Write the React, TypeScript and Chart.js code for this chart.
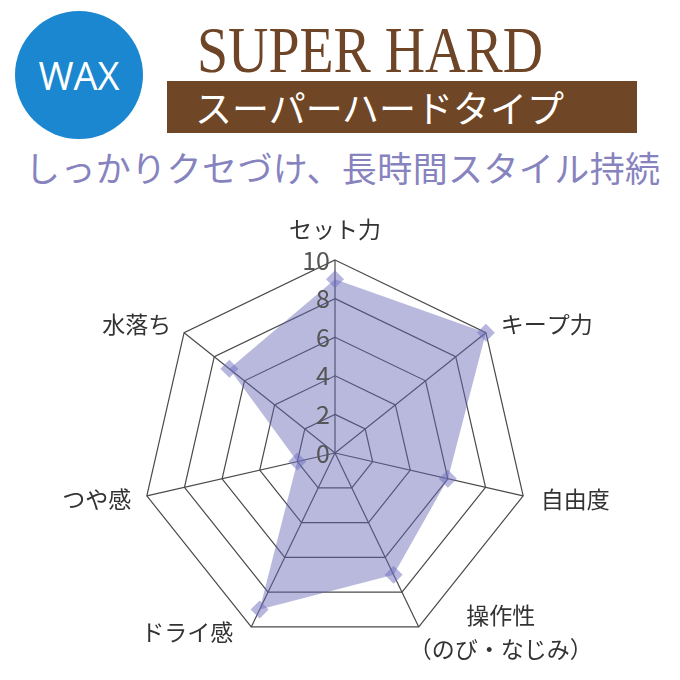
import { useEffect, useRef } from "react";
import { Chart, registerables } from "chart.js";

Chart.register(...registerables);

const axisLabels: (string | string[])[] = [
  "セット力",
  "キープ力",
  "自由度",
  ["操作性", "（のび・なじみ）"],
  "ドライ感",
  "つや感",
  "水落ち",
];
const scores = [9, 10, 6, 7, 9, 2, 7];
const tickValues = [0, 2, 4, 6, 8, 10];

const JP = '"Noto Sans CJK JP", "Noto Sans", sans-serif';

// draws tick numbers left of the axis and the axis names
const textPlugin = {
  id: "radarText",
  afterDraw(chart: any) {
    const scale = chart.scales.r;
    const ctx = chart.ctx as CanvasRenderingContext2D;
    ctx.save();

    ctx.font = `25px ${JP}`;
    ctx.fillStyle = "#555";
    ctx.textAlign = "right";
    ctx.textBaseline = "middle";
    tickValues.forEach((v) => {
      const d = scale.getDistanceFromCenterForValue(v);
      ctx.fillText(String(v), scale.xCenter - 5, scale.yCenter - d);
    });

    ctx.font = `23px ${JP}`;
    ctx.fillStyle = "#333";
    ctx.textAlign = "center";
    const lh = 34;
    axisLabels.forEach((label, i) => {
      const lines = Array.isArray(label) ? label : [label];
      const p = scale.getPointPosition(i, scale.drawingArea + 14);
      const dx = p.x - scale.xCenter;
      const dy = p.y - scale.yCenter;
      const maxW = Math.max(...lines.map((l) => ctx.measureText(l).width));
      let cx = p.x;
      let cy = p.y;
      if (Math.abs(dx) < 2) {
        cx = p.x;
      } else if (dx > 0) {
        cx = p.x + maxW / 2 + 4;
      } else {
        cx = p.x - maxW / 2 - 2;
      }
      if (dy < -scale.drawingArea * 0.9) {
        cy = p.y - 17;
      } else if (dy > scale.drawingArea * 0.8) {
        cy = p.y - 7;
        cx += dx > 0 ? -20 : -10;
      }
      lines.forEach((l, k) => {
        ctx.fillText(l, cx, cy - ((lines.length - 1) * lh) / 2 + k * lh);
      });
    });
    ctx.restore();
  },
};

function Radar() {
  const canvasRef = useRef<HTMLCanvasElement | null>(null);

  useEffect(() => {
    if (!canvasRef.current) return;
    const chart = new Chart(canvasRef.current, {
      type: "radar",
      data: {
        labels: axisLabels,
        datasets: [
          {
            data: scores,
            fill: true,
            backgroundColor: "rgba(100,100,180,0.45)",
            borderColor: "rgba(0,0,0,0)",
            borderWidth: 0,
            pointStyle: "rectRot",
            pointRadius: 9,
            pointBackgroundColor: "rgba(110,110,190,0.5)",
            pointBorderWidth: 0,
          },
        ],
      },
      options: {
        animation: false,
        responsive: true,
        maintainAspectRatio: false,
        layout: { padding: { left: 142, right: 152, top: 60, bottom: 34 } },
        plugins: { legend: { display: false }, tooltip: { enabled: false } },
        scales: {
          r: {
            min: 0,
            max: 10,
            ticks: { stepSize: 2, display: false },
            grid: { color: "#4a4a4a", lineWidth: 1.2, circular: false },
            angleLines: { color: "#4a4a4a", lineWidth: 1.2 },
            pointLabels: { display: false },
          },
        },
      },
      plugins: [textPlugin],
    });
    return () => chart.destroy();
  }, []);

  return (
    <div style={{ position: "absolute", left: 0, top: 200, width: 680, height: 480 }}>
      <canvas ref={canvasRef} />
    </div>
  );
}

export default function App() {
  return (
    <div
      style={{
        position: "absolute",
        left: 0,
        top: 0,
        width: 680,
        height: 680,
        background: "#fff",
        overflow: "hidden",
      }}
    >
      <div
        style={{
          position: "absolute",
          left: 15,
          top: 11,
          width: 128,
          height: 128,
          borderRadius: "50%",
          background: "#1b87d0",
          color: "#fff",
          display: "flex",
          alignItems: "center",
          justifyContent: "center",
          fontFamily: '"Open Sans", "Noto Sans", sans-serif',
          fontSize: 38,
        }}
      >
        WAX
      </div>
      <div
        style={{
          position: "absolute",
          left: 197,
          top: 17,
          fontFamily: '"Liberation Serif", serif',
          fontSize: 66,
          lineHeight: "66px",
          color: "#6e4526",
          whiteSpace: "nowrap",
          transform: "scaleX(0.846)",
          transformOrigin: "left top",
        }}
      >
        SUPER HARD
      </div>
      <div
        style={{
          position: "absolute",
          left: 167,
          top: 81,
          width: 470,
          height: 52,
          background: "#6f4626",
          color: "#fff",
          fontFamily: JP,
          fontSize: 37,
          lineHeight: "52px",
          paddingLeft: 28,
          boxSizing: "border-box",
          whiteSpace: "nowrap",
        }}
      >
        スーパーハードタイプ
      </div>
      <div
        style={{
          position: "absolute",
          left: 25,
          top: 149,
          fontFamily: JP,
          fontSize: 35,
          lineHeight: "36px",
          letterSpacing: 0.4,
          color: "#8783bf",
          whiteSpace: "nowrap",
        }}
      >
        しっかりクセづけ、長時間スタイル持続
      </div>
      <Radar />
    </div>
  );
}
